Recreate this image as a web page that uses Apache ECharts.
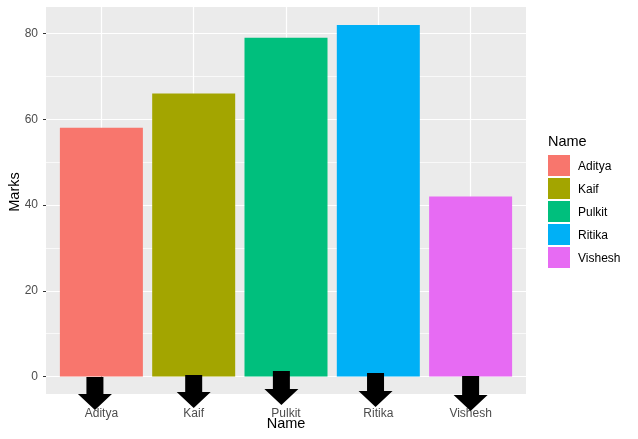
<!DOCTYPE html>
<html>
<head>
<meta charset="utf-8">
<style>html,body{margin:0;padding:0;background:#fff}#main{width:638px;height:439px}</style>
<script src="https://cdn.jsdelivr.net/npm/echarts@6/dist/echarts.min.js"></script>
</head>
<body>
<div id="main"></div>
<script>
// values
var names = ['Aditya', 'Kaif', 'Pulkit', 'Ritika', 'Vishesh'];
var marks = [58, 66, 79, 82, 42];
var colors = ['#F8766D', '#A3A500', '#00BF7D', '#00B0F6', '#E76BF3'];
var positions = [1, 2, 3, 4, 5];
var yMajor = [0, 20, 40, 60, 80];
var yMinor = [10, 30, 50, 70];
// hand placed arrows: x position, top and tip value
var arrowX = [0.93, 2.0, 2.95, 3.97, 5.0];
var arrowTop = [-0.1, 0.35, 1.3, 0.8, 0.1];
var arrowTip = [-7.8, -7.35, -6.65, -7.1, -8.05];

var font = '"Liberation Sans", Arial, sans-serif';

var chart = echarts.init(document.getElementById('main'), null, {renderer: 'canvas'});

var series = names.map(function (name, i) {
    return {
        name: name,
        type: 'bar',
        stack: 'marks',
        barWidth: 83,
        itemStyle: {color: colors[i]},
        data: [[positions[i], marks[i]]]
    };
});

series.push({
    type: 'custom',
    silent: true,
    z: 5,
    encode: {x: 0, y: [1, 2]},
    data: arrowX.map(function (x, i) { return [x, arrowTop[i], arrowTip[i]]; }),
    renderItem: function (params, api) {
        var top = api.coord([api.value(0), api.value(1)]);
        var tip = api.coord([api.value(0), api.value(2)]);
        var cx = tip[0], neck = tip[1] - 16;
        return {
            type: 'polygon',
            shape: {points: [
                [cx - 8.5, top[1]], [cx + 8.5, top[1]], [cx + 8.5, neck], [cx + 17, neck],
                [cx, tip[1]], [cx - 17, neck], [cx - 8.5, neck]
            ]},
            style: {fill: '#000'}
        };
    }
});

var option = {
    animation: false,
    backgroundColor: '#fff',
    textStyle: {fontFamily: font},
    title: {
        text: 'Name',
        left: 548,
        top: 134,
        padding: 0,
        textStyle: {fontSize: 14.5, fontWeight: 'normal', color: '#000', fontFamily: font}
    },
    // axis titles sit where the reference has them, over the tick labels
    graphic: [{
        type: 'text',
        x: 286,
        y: 424,
        z: 10,
        style: {text: 'Name', align: 'center', verticalAlign: 'middle', fontSize: 14.5, fill: '#000', fontFamily: font}
    }, {
        type: 'text',
        x: 15,
        y: 192,
        rotation: Math.PI / 2,
        z: 10,
        style: {text: 'Marks', align: 'center', verticalAlign: 'middle', fontSize: 14.5, fill: '#000', fontFamily: font}
    }],
    legend: {
        left: 548,
        top: 155,
        padding: 0,
        orient: 'vertical',
        icon: 'rect',
        itemWidth: 22,
        itemHeight: 21,
        itemGap: 2,
        selectedMode: false,
        data: names,
        formatter: '{t|{name}}',
        textStyle: {
            fontSize: 12,
            color: '#000',
            fontFamily: font,
            rich: {t: {fontSize: 12, color: '#000', fontFamily: font, padding: [3, 0, 0, 3]}}
        }
    },
    grid: {
        left: 46, top: 7, width: 480, height: 387,
        outerBoundsMode: 'none',
        backgroundColor: '#EBEBEB', show: true, borderWidth: 0
    },
    xAxis: {
        type: 'value',
        min: 0.4,
        max: 5.6,
        axisLine: {show: false},
        axisTick: {show: true, length: 3, customValues: positions, lineStyle: {color: '#333'}},
        axisLabel: {
            customValues: positions,
            margin: 14,
            fontSize: 12,
            color: '#4D4D4D',
            fontFamily: font,
            formatter: function (v) { return names[v - 1]; }
        },
        splitLine: {show: true, lineStyle: {color: '#fff', width: 1.2}}
    },
    yAxis: [{
        type: 'value',
        min: -4.08,
        max: 86.18,
        axisLine: {show: false},
        axisTick: {show: true, length: 3, customValues: yMajor, lineStyle: {color: '#333'}},
        axisLabel: {customValues: yMajor, margin: 8, fontSize: 12, color: '#4D4D4D', fontFamily: font},
        splitLine: {show: true, lineStyle: {color: '#fff', width: 1.2}}
    }, {
        type: 'value',
        min: -4.08,
        max: 86.18,
        position: 'left',
        axisLine: {show: false},
        axisTick: {show: false, customValues: yMinor},
        axisLabel: {show: false, customValues: yMinor},
        splitLine: {show: true, lineStyle: {color: '#fff', width: 0.7}}
    }],
    series: series
};

chart.setOption(option);
</script>
</body>
</html>
